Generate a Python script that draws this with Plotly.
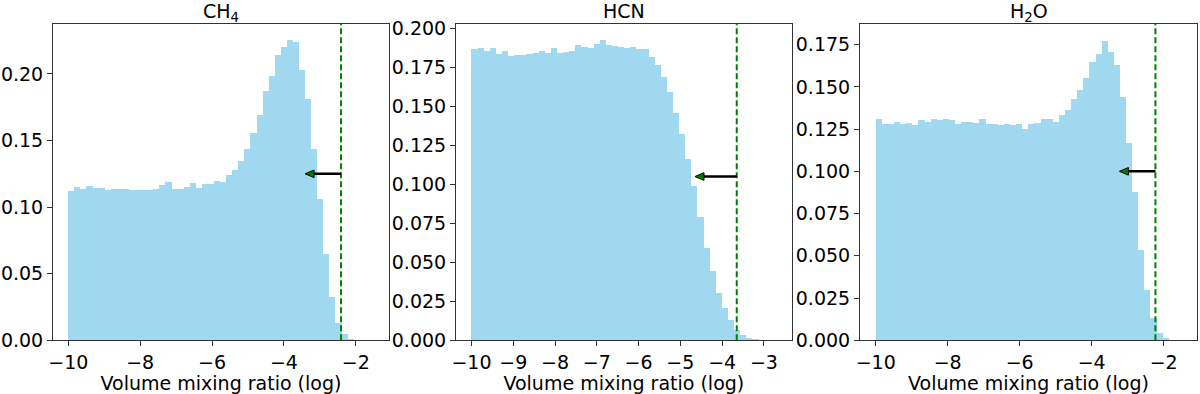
import numpy as np
import plotly.graph_objects as go

# histogram heights (density), one value per bin, bins start at -10
ch4_density = [0.1121, 0.1153, 0.1136, 0.1156, 0.1146, 0.1141, 0.1128, 0.1138, 0.1136, 0.1138,
               0.1128, 0.1126, 0.1126, 0.1126, 0.1133, 0.1168, 0.1188, 0.1133, 0.1133, 0.1151,
               0.1183, 0.1146, 0.1176, 0.1176, 0.1193, 0.1191, 0.1240, 0.1282, 0.1345, 0.1436,
               0.1557, 0.1691, 0.1869, 0.1982, 0.2140, 0.2204, 0.2252, 0.2239, 0.2032, 0.1809,
               0.1439, 0.1061, 0.0648, 0.0327, 0.0132, 0.0045, 0.0012]
hcn_density = [0.1868, 0.1872, 0.1858, 0.1873, 0.1838, 0.1855, 0.1820, 0.1829, 0.1830, 0.1836,
               0.1842, 0.1855, 0.1844, 0.1874, 0.1844, 0.1850, 0.1855, 0.1896, 0.1882, 0.1876,
               0.1898, 0.1923, 0.1894, 0.1889, 0.1879, 0.1873, 0.1879, 0.1867, 0.1867, 0.1818,
               0.1768, 0.1690, 0.1590, 0.1455, 0.1322, 0.1160, 0.0987, 0.0788, 0.0591, 0.0447,
               0.0305, 0.0207, 0.0127, 0.0064, 0.0036, 0.0015, 0.0006]
h2o_density = [0.1309, 0.1278, 0.1282, 0.1292, 0.1278, 0.1286, 0.1272, 0.1302, 0.1292, 0.1311,
               0.1305, 0.1311, 0.1305, 0.1282, 0.1292, 0.1294, 0.1288, 0.1311, 0.1278, 0.1278,
               0.1274, 0.1278, 0.1272, 0.1278, 0.1252, 0.1280, 0.1284, 0.1308, 0.1308, 0.1294,
               0.1335, 0.1361, 0.1429, 0.1482, 0.1550, 0.1645, 0.1694, 0.1774, 0.1708, 0.1629,
               0.1441, 0.1167, 0.0879, 0.0534, 0.0298, 0.0134, 0.0041, 0.0012]

species = ["CH<sub>4</sub>", "HCN", "H<sub>2</sub>O"]
bin_start = -10.0
bin_widths = [0.169, 0.1462, 0.1696]
upper_limits = [-2.41, -3.65, -2.23]
arrow_y = [0.125, 0.105, 0.100]
arrow_length = 1.0

x_ticks = [[-10, -8, -6, -4, -2], [-10, -9, -8, -7, -6, -5, -4, -3], [-10, -8, -6, -4, -2]]
y_ticks = [[0, 0.05, 0.10, 0.15, 0.20],
           [0, 0.025, 0.05, 0.075, 0.10, 0.125, 0.15, 0.175, 0.20],
           [0, 0.025, 0.05, 0.075, 0.10, 0.125, 0.15, 0.175]]
y_fmt = [".2f", ".3f", ".3f"]
x_ranges = [[-10.425, -1.075], [-10.37, -2.335], [-10.436, -1.075]]
y_ranges = [[0, 0.2375], [0, 0.2028], [0, 0.1872]]

W, H = 1200, 394
x_dom_px = [(53, 389), (456, 791.7), (860, 1197)]
y_dom_px = (24, 340.3)
ydom = [1 - y_dom_px[1] / H, 1 - y_dom_px[0] / H]

densities = [ch4_density, hcn_density, h2o_density]
font = "DejaVu Sans"
fs = 19
bar_color = "rgba(135,206,235,0.8)"

fig = go.Figure()
shapes = []
annotations = []

for i in range(3):
    sfx = "" if i == 0 else str(i + 1)
    xa, ya = "x" + sfx, "y" + sfx
    d = np.array(densities[i])
    w = bin_widths[i]
    centers = bin_start + w * (np.arange(len(d)) + 0.5)

    fig.add_trace(go.Bar(
        x=centers, y=d, width=w,
        marker=dict(color=bar_color, line=dict(width=0)),
        xaxis=xa, yaxis=ya, showlegend=False, hoverinfo="x+y"
    ))

    x0p, x1p = x_dom_px[i]
    dom = [x0p / W, x1p / W]
    common = dict(showline=True, linecolor="#333", linewidth=1, mirror=True,
                  ticks="outside", ticklen=5, tickwidth=1, tickcolor="#333",
                  showgrid=False, zeroline=False, automargin=False,
                  tickfont=dict(family=font, size=fs, color="black"))
    fig.update_layout(**{
        "xaxis" + sfx: dict(domain=dom, range=x_ranges[i], tickvals=x_ticks[i],
                            anchor=ya,
                            title=dict(text="Volume mixing ratio (log)",
                                       font=dict(family=font, size=fs, color="black"),
                                       standoff=0),
                            **common),
        "yaxis" + sfx: dict(domain=ydom, range=y_ranges[i], tickvals=y_ticks[i],
                            tickformat=y_fmt[i], anchor=xa, **common),
    })

    # dashed upper limit
    lim = upper_limits[i]
    shapes.append(dict(type="line", xref=xa, yref=ya + " domain", x0=lim, x1=lim, y0=0, y1=1,
                       line=dict(color="#008000", width=2, dash="6px,3px")))

    # arrow pointing left from the limit
    px_per_x = (x1p - x0p) / (x_ranges[i][1] - x_ranges[i][0])
    px_per_y = (y_dom_px[1] - y_dom_px[0]) / (y_ranges[i][1] - y_ranges[i][0])
    head_len = 9 / px_per_x
    head_half = 3.8 / px_per_y
    tip = lim - arrow_length
    ay = arrow_y[i]
    shapes.append(dict(type="line", xref=xa, yref=ya, x0=lim, x1=tip + head_len, y0=ay, y1=ay,
                       line=dict(color="black", width=2.5)))
    shapes.append(dict(type="path", xref=xa, yref=ya,
                       path=f"M {tip},{ay} L {tip + head_len},{ay + head_half} "
                            f"L {tip + head_len},{ay - head_half} Z",
                       fillcolor="#008000", line=dict(color="black", width=1)))

    annotations.append(dict(text=species[i], xref="paper", yref="paper",
                            x=(dom[0] + dom[1]) / 2, y=1 + 2 / H,
                            xanchor="center", yanchor="top", showarrow=False,
                            font=dict(family=font, size=fs, color="black")))

fig.update_layout(
    width=W, height=H,
    margin=dict(l=0, r=0, t=0, b=0, autoexpand=False),
    paper_bgcolor="white", plot_bgcolor="white",
    bargap=0, shapes=shapes, annotations=annotations,
)

# drop the default 8px page margin so the figure sits at the window's corner
fig.write_html("out.html", config={"displayModeBar": False},
               post_script="document.body.style.margin='0';document.body.style.overflow='hidden';")
